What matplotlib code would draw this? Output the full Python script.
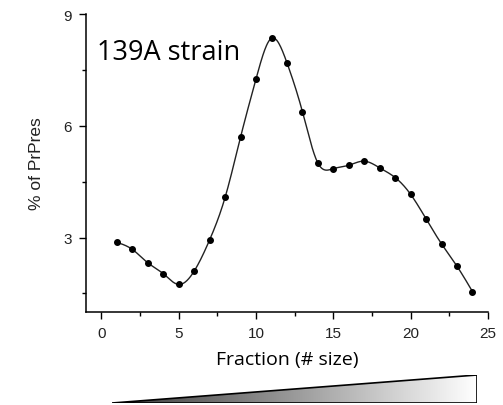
import numpy as np
import matplotlib
matplotlib.use("Agg")
import matplotlib.pyplot as plt
from matplotlib.patches import Polygon
from matplotlib.colors import LinearSegmentedColormap
from matplotlib.ticker import MultipleLocator

fractions = [1, 2, 3, 4, 5, 6, 7, 8, 9, 10, 11, 12, 13, 14, 15, 16, 17, 18, 19, 20, 21, 22, 23, 24]
prpres = [2.87, 2.68, 2.32, 2.03, 1.74, 2.10, 2.94, 4.08, 5.70, 7.26, 8.35, 7.69, 6.38,
          5.00, 4.85, 4.94, 5.05, 4.87, 4.61, 4.16, 3.50, 2.83, 2.23, 1.55]
x_ticks = [0, 5, 10, 15, 20, 25]
y_ticks = [3, 6, 9]


def natural_spline(x, y, xs):
    x = np.asarray(x, float); y = np.asarray(y, float)
    n = len(x)
    h = np.diff(x)
    A = np.zeros((n, n)); b = np.zeros(n)
    A[0, 0] = 1; A[-1, -1] = 1
    for i in range(1, n - 1):
        A[i, i - 1] = h[i - 1]
        A[i, i] = 2 * (h[i - 1] + h[i])
        A[i, i + 1] = h[i]
        b[i] = 3 * ((y[i + 1] - y[i]) / h[i] - (y[i] - y[i - 1]) / h[i - 1])
    c = np.linalg.solve(A, b)
    out = np.empty_like(xs)
    for k, xv in enumerate(xs):
        i = min(max(np.searchsorted(x, xv) - 1, 0), n - 2)
        dx = xv - x[i]
        bi = (y[i + 1] - y[i]) / h[i] - h[i] * (2 * c[i] + c[i + 1]) / 3
        di = (c[i + 1] - c[i]) / (3 * h[i])
        out[k] = y[i] + bi * dx + c[i] * dx ** 2 + di * dx ** 3
    return out


fig = plt.figure(figsize=(5.03, 4.06), dpi=100)
ax = fig.add_axes([0.171, 0.229, 0.799, 0.734])

xs = np.linspace(fractions[0], fractions[-1], 600)
ax.plot(xs, natural_spline(fractions, prpres, xs), color="#222222", lw=1.0)
ax.plot(fractions, prpres, "o", color="black", ms=4)

ax.set_xlim(-1, 25)
ax.set_ylim(1, 9)
ax.set_xticks(x_ticks)
ax.set_yticks(y_ticks)
ax.xaxis.set_minor_locator(MultipleLocator(2.5))
ax.yaxis.set_minor_locator(MultipleLocator(1.5))
for s in ["top", "right"]:
    ax.spines[s].set_visible(False)
for s in ["left", "bottom"]:
    ax.spines[s].set_linewidth(1.1)
ax.tick_params(axis="both", which="major", length=5, width=1, labelsize=11,
               colors="black", labelcolor="#222222", pad=5)
ax.tick_params(axis="both", which="minor", length=3, width=1)
for lbl in ax.get_xticklabels() + ax.get_yticklabels():
    lbl.set_family("Liberation Sans")

ax.set_ylabel("% of PrPres", family="Liberation Sans", fontsize=12.5, labelpad=14, color="#222222")
ax.set_xlabel("Fraction (# size)", family="Open Sans", fontsize=14, labelpad=7)
ax.text(-0.3, 7.8, "139A strain", family="Open Sans", fontsize=19.5, va="baseline", ha="left")

# gradient triangle
tax = fig.add_axes([0.2227, 0.0049, 0.7256, 0.069])
tax.set_xlim(0, 1); tax.set_ylim(0, 1)
tax.axis("off")
cmap = LinearSegmentedColormap.from_list("g", ["#3a3a3a", "#9a9a9a", "#ffffff"])
grad = np.linspace(0, 1, 256).reshape(1, -1)
im = tax.imshow(grad, cmap=cmap, extent=[0, 1, 0, 1], aspect="auto")
tri = Polygon([[0, 0], [1, 0], [1, 1]], closed=True, facecolor="none",
              edgecolor="black", lw=1.2, transform=tax.transData)
tax.add_patch(tri)
im.set_clip_path(tri)

fig.savefig("out.png", dpi=100)
